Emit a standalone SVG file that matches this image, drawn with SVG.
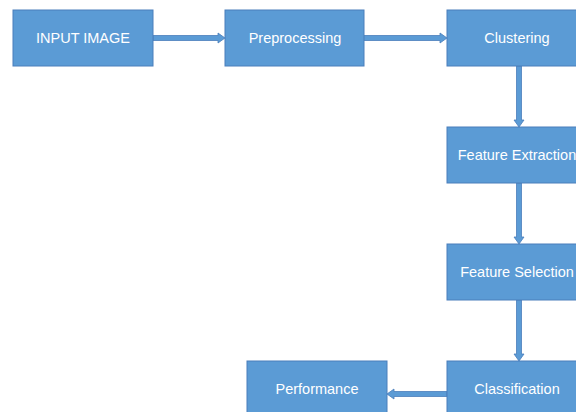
<svg xmlns="http://www.w3.org/2000/svg" width="576" height="412" viewBox="0 0 576 412">
<style>
.box{fill:#5B9BD5;stroke:#4A7EBB;stroke-width:1}
.lbl{fill:#FFFFFF;font-family:"Liberation Sans",Arial,sans-serif;font-size:14.5px;text-anchor:middle;dominant-baseline:central}
.arr{fill:#5B9BD5;stroke:#4A7EBB;stroke-width:0.8}
</style>
<rect width="576" height="412" fill="#FFFFFF"/>
<g id="connectors">
<polygon class="arr" points="153,35.5 218,35.5 218,33 225,38 218,43 218,40.5 153,40.5"/>
<polygon class="arr" points="360,35.5 440,35.5 440,33 447,38 440,43 440,40.5 360,40.5"/>
<polygon class="arr" points="516.5,66 521.5,66 521.5,120 524,120 519,127 514,120 516.5,120"/>
<polygon class="arr" points="516.5,183 521.5,183 521.5,237 524,237 519,244 514,237 516.5,237"/>
<polygon class="arr" points="516.5,300 521.5,300 521.5,354 524,354 519,361 514,354 516.5,354"/>
<polygon class="arr" points="447,391.5 394,391.5 394,389 387,394 394,399 394,396.5 447,396.5"/>
</g>
<g id="input-image"><rect class="box" x="13" y="10" width="140" height="56"/><text class="lbl" x="83" y="38">INPUT IMAGE</text></g>
<g id="preprocessing"><rect class="box" x="225" y="10" width="139" height="56"/><text class="lbl" x="295" y="38">Preprocessing</text></g>
<g id="clustering"><rect class="box" x="447" y="10" width="140" height="56"/><text class="lbl" x="517" y="38">Clustering</text></g>
<g id="feature-extraction"><rect class="box" x="447" y="127" width="140" height="56"/><text class="lbl" x="517" y="155">Feature Extraction</text></g>
<g id="feature-selection"><rect class="box" x="447" y="244" width="140" height="56"/><text class="lbl" x="517" y="272">Feature Selection</text></g>
<g id="classification"><rect class="box" x="447" y="361" width="140" height="56"/><text class="lbl" x="517" y="389">Classification</text></g>
<g id="performance"><rect class="box" x="247" y="361" width="140" height="56"/><text class="lbl" x="317" y="389">Performance</text></g>
</svg>
